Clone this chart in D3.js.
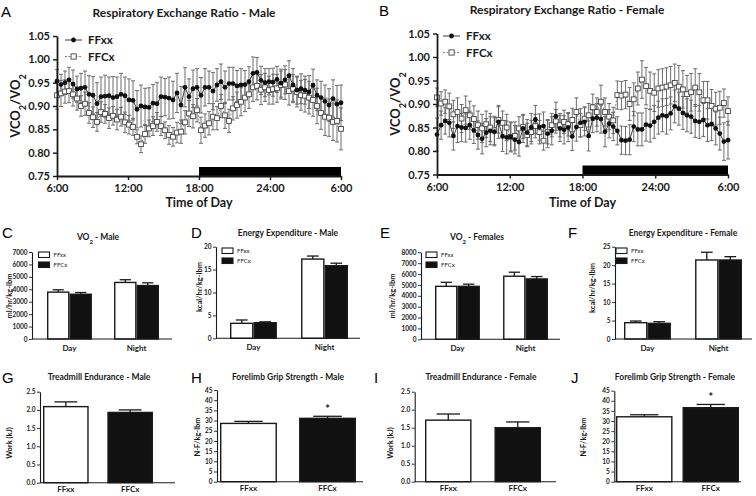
<!DOCTYPE html>
<html><head><meta charset="utf-8">
<script src="https://cdn.jsdelivr.net/npm/d3@7"></script>
<style>
body{margin:0;background:#fff;}
svg text{font-family:Lato,"Open Sans",sans-serif;}
.lab{font-family:"Liberation Sans",Arial,sans-serif !important;}
</style></head><body>
<svg id="c" width="756" height="496"></svg>
<script>
// ---------- DATA ----------
const timeTicks = [6, 12, 18, 24, 30];
const timeTickLabels = ["6:00", "12:00", "18:00", "24:00", "6:00"];
const rerTicks = [0.75, 0.80, 0.85, 0.90, 0.95, 1.00, 1.05];
const seriesNames = ["FFxx", "FFCx"];
const periods = ["Day", "Night"];

const maleFFxx = [0.953,0.946,0.950,0.956,0.947,0.936,0.938,0.940,0.925,0.923,
 0.905,0.920,0.921,0.922,0.918,0.920,0.925,0.922,0.913,0.912,
 0.893,0.900,0.898,0.897,0.906,0.905,0.920,0.919,0.917,0.913,
 0.928,0.902,0.940,0.920,0.937,0.940,0.923,0.940,0.940,0.932,
 0.945,0.952,0.940,0.948,0.948,0.943,0.945,0.946,0.952,0.970,
 0.972,0.955,0.950,0.952,0.951,0.957,0.949,0.956,0.965,0.945,
 0.934,0.937,0.934,0.930,0.944,0.923,0.918,0.910,0.902,0.916,
 0.904,0.907];
const maleFFxxErr = [0.025,0.022,0.025,0.027,0.030,0.028,0.032,
 0.035,0.040,0.040,0.045,0.042,0.045,0.040,0.045,0.042,0.045,0.040,0.045,0.042,0.040,0.045,0.040,0.042,0.040,0.045,0.042,0.040,0.045,0.040,0.042,
 0.040,0.042,0.038,0.040,0.040,0.038,0.040,0.035,0.040,0.035,0.038,0.035,0.035,0.035,0.033,0.035,0.030,0.032,
 0.035,0.032,0.030,0.030,0.028,0.030,0.028,0.030,0.030,0.032,0.035,0.030,
 0.032,0.030,0.035,0.035,0.033,0.035,0.035,0.035,0.040,0.040,0.038];
const maleFFCx = [0.923,0.927,0.931,0.932,0.925,0.916,0.900,0.905,0.885,0.876,
 0.866,0.887,0.883,0.874,0.879,0.871,0.877,0.865,0.860,0.855,
 0.834,0.818,0.840,0.852,0.857,0.866,0.857,0.848,0.838,0.834,
 0.843,0.845,0.865,0.884,0.878,0.891,0.848,0.858,0.863,0.877,
 0.874,0.900,0.880,0.868,0.895,0.902,0.909,0.918,0.925,0.940,
 0.943,0.935,0.940,0.934,0.936,0.938,0.945,0.946,0.932,0.937,
 0.930,0.923,0.922,0.918,0.913,0.900,0.885,0.877,0.875,0.866,
 0.868,0.851];
const maleFFCxErr = [0.030,0.028,0.025,0.025,0.025,0.025,0.022,
 0.025,0.022,0.022,0.020,0.022,0.020,0.022,0.020,0.022,0.020,0.022,0.020,0.018,0.015,0.018,0.020,0.018,0.020,0.020,0.020,0.018,0.020,0.020,0.022,
 0.025,0.025,0.028,0.025,0.025,0.028,0.025,0.025,0.028,0.025,0.025,0.028,0.025,0.025,0.028,0.030,0.030,0.030,
 0.030,0.030,0.032,0.030,0.030,0.032,0.030,0.030,0.032,0.030,0.030,0.032,
 0.032,0.035,0.035,0.035,0.038,0.035,0.040,0.040,0.040,0.045,0.045];

const femaleFFxx = [0.835,0.855,0.864,0.860,0.832,0.853,0.850,0.849,0.855,0.844,
 0.834,0.826,0.839,0.843,0.841,0.862,0.831,0.829,0.830,0.824,
 0.819,0.848,0.839,0.850,0.867,0.851,0.853,0.837,0.843,0.874,
 0.848,0.845,0.850,0.831,0.851,
 0.860,0.862,0.832,0.869,0.871,0.868,0.841,0.858,0.852,0.843,
 0.823,0.822,0.824,0.852,0.846,0.846,0.856,0.854,0.862,0.871,
 0.876,0.874,0.880,0.895,0.890,0.881,0.876,0.873,0.864,0.862,
 0.866,0.855,0.857,0.848,0.837,0.820,0.823];
const femaleFFxxErr = [0.035,0.030,0.028,0.030,0.030,0.035,0.030,0.030,0.030,0.028,
 0.030,0.032,0.030,0.030,0.030,0.035,0.032,0.035,0.032,0.030,
 0.030,0.030,0.028,0.030,0.030,0.028,0.030,0.030,0.030,0.030,
 0.028,0.030,0.030,0.030,0.030,
 0.030,0.030,0.032,0.030,0.030,0.030,0.032,0.030,0.030,0.030,
 0.030,0.030,0.032,0.032,0.035,0.035,0.035,0.035,0.035,0.035,
 0.035,0.038,0.035,0.035,0.035,0.035,0.035,0.035,0.035,0.035,
 0.035,0.035,0.035,0.035,0.035,0.040,0.040];
const femaleFFCx = [0.914,0.901,0.905,0.895,0.878,0.883,0.869,0.887,0.876,0.868,
 0.855,0.848,0.857,0.850,0.844,0.866,0.860,0.850,0.830,0.832,
 0.848,0.851,0.834,0.840,0.853,0.840,0.822,0.840,0.855,0.863,
 0.855,0.862,0.857,0.866,0.883,
 0.855,0.869,0.876,0.893,0.883,0.905,0.883,0.873,0.865,0.919,
 0.918,0.920,0.900,0.910,0.933,0.952,0.938,0.928,0.924,0.933,
 0.935,0.937,0.940,0.945,0.937,0.931,0.921,0.925,0.935,0.925,
 0.908,0.908,0.896,0.890,0.892,0.902,0.885];
const femaleFFCxErr = [0.020,0.025,0.025,0.028,0.030,0.030,0.030,0.030,0.030,0.028,
 0.030,0.030,0.028,0.030,0.030,0.028,0.025,0.028,0.030,0.030,
 0.025,0.025,0.025,0.025,0.025,0.025,0.020,0.025,0.025,0.025,
 0.025,0.025,0.025,0.025,0.030,
 0.025,0.025,0.025,0.028,0.030,0.035,0.030,0.028,0.028,0.030,
 0.030,0.030,0.035,0.035,0.035,0.040,0.040,0.040,0.040,0.040,
 0.040,0.040,0.040,0.040,0.045,0.040,0.040,0.040,0.040,0.040,
 0.040,0.040,0.035,0.035,0.035,0.030,0.030];

// bar panels: [FFxx, FFCx] per period
const vo2MaleDay = [3770, 3600], vo2MaleDayErr = [190, 140];
const vo2MaleNight = [4550, 4300], vo2MaleNightErr = [220, 220];
const eeMaleDay = [3.27, 3.40], eeMaleDayErr = [0.73, 0.20];
const eeMaleNight = [17.3, 15.85], eeMaleNightErr = [0.66, 0.55];
const vo2FemaleDay = [4870, 4870], vo2FemaleDayErr = [370, 200];
const vo2FemaleNight = [5800, 5550], vo2FemaleNightErr = [370, 220];
const eeFemaleDay = [4.42, 4.24], eeFemaleDayErr = [0.45, 0.45];
const eeFemaleNight = [21.4, 21.4], eeFemaleNightErr = [2.1, 0.9];
const treadMale = [2.09, 1.93], treadMaleErr = [0.13, 0.07];
const gripMale = [28.6, 31.1], gripMaleErr = [1.0, 1.0];
const treadFemale = [1.71, 1.50], treadFemaleErr = [0.17, 0.16];
const gripFemale = [32.1, 36.6], gripFemaleErr = [1.0, 1.6];

// ---------- DRAW ----------
const svg = d3.select("#c");
const INK = "#1a1a1a";

function styleAxis(sel, w, fs) {
  sel.select(".domain").attr("stroke", INK).attr("stroke-width", w);
  sel.selectAll(".tick line").attr("stroke", INK).attr("stroke-width", w * 0.8);
  sel.selectAll(".tick text").attr("fill", INK).attr("font-weight", "bold")
     .attr("font-size", fs).attr("font-family", "Lato, 'Open Sans', sans-serif");
}

function subText(g, parts, attrs) {
  const t = g.append("text");
  Object.entries(attrs).forEach(([k, v]) => t.attr(k, v));
  parts.forEach(p => {
    if (p.sub) {
      t.append("tspan").attr("baseline-shift", "sub").attr("font-size", "70%").text(p.t);
    } else t.append("tspan").text(p.t);
  });
  return t;
}

function rerPanel(o) {
  const g = svg.append("g");
  const x = d3.scaleLinear().domain([6, 30]).range([o.x0, o.x1]);
  const y = d3.scaleLinear().domain([0.75, 1.05]).range([o.yB, o.yT]);
  const n = o.s1.length;
  const hrs = d3.range(n).map(i => 6 + i * 24 / (n - 1));

  // dark phase bar
  g.append("rect").attr("x", x(18)).attr("y", y(0.75) - 9)
    .attr("width", x(30) - x(18)).attr("height", 9).attr("fill", "#000");

  const series = [
    {v: o.s2, e: o.e2, kind: "sq"},
    {v: o.s1, e: o.e1, kind: "dot"}
  ];
  // error bars
  series.forEach(s => {
    const eg = g.append("g").attr("stroke", "#5e5e5e").attr("stroke-width", 0.9);
    s.v.forEach((v, i) => {
      const cx = x(hrs[i]);
      eg.append("line").attr("x1", cx).attr("x2", cx).attr("y1", y(v - s.e[i])).attr("y2", y(v + s.e[i]));
      eg.append("line").attr("x1", cx - 2).attr("x2", cx + 2).attr("y1", y(v + s.e[i])).attr("y2", y(v + s.e[i]));
      eg.append("line").attr("x1", cx - 2).attr("x2", cx + 2).attr("y1", y(v - s.e[i])).attr("y2", y(v - s.e[i]));
    });
  });
  const line = d3.line().x((d, i) => x(hrs[i])).y(d => y(d));
  g.append("path").datum(o.s2).attr("d", line).attr("fill", "none")
    .attr("stroke", "#777").attr("stroke-width", 0.9).attr("stroke-dasharray", "2,1.5");
  g.append("path").datum(o.s1).attr("d", line).attr("fill", "none")
    .attr("stroke", "#222").attr("stroke-width", 0.9);
  g.append("g").selectAll("rect").data(o.s2).join("rect")
    .attr("x", (d, i) => x(hrs[i]) - 2.4).attr("y", d => y(d) - 2.4)
    .attr("width", 4.8).attr("height", 4.8).attr("fill", "#fff")
    .attr("stroke", "#444").attr("stroke-width", 0.9);
  g.append("g").selectAll("circle").data(o.s1).join("circle")
    .attr("cx", (d, i) => x(hrs[i])).attr("cy", d => y(d)).attr("r", 2.4).attr("fill", "#111");

  // axes
  const ya = g.append("g").attr("transform", `translate(${o.x0},0)`)
    .call(d3.axisLeft(y).tickValues(rerTicks).tickFormat(d3.format(".2f")).tickSize(4).tickSizeOuter(0));
  styleAxis(ya, 1.8, 11);
  const xa = g.append("g").attr("transform", `translate(0,${o.yB})`)
    .call(d3.axisBottom(x).tickValues(timeTicks).tickFormat((d, i) => timeTickLabels[i]).tickSize(4).tickSizeOuter(0));
  styleAxis(xa, 1.8, 11);
  xa.selectAll(".tick text").attr("dy", "0.85em");

  // title, labels
  g.append("text").attr("x", o.tx).attr("y", o.ty).attr("text-anchor", "middle")
    .attr("font-weight", "bold").attr("font-size", 12).attr("fill", INK).text(o.title);
  g.append("text").attr("class", "lab").attr("x", o.lx).attr("y", o.ly)
    .attr("font-size", 15).attr("fill", "#000").text(o.letter);
  g.append("text").attr("x", (o.x0 + o.x1) / 2).attr("y", 207).attr("text-anchor", "middle")
    .attr("font-weight", "bold").attr("font-size", 12.5).attr("fill", INK).text("Time of Day");
  subText(g, [{t: "VCO"}, {t: "2", sub: 1}, {t: "/VO"}, {t: "2", sub: 1}],
    {transform: `translate(${o.x0 - 37},${(o.yT + o.yB) / 2}) rotate(-90)`, "text-anchor": "middle",
     "font-weight": "bold", "font-size": 13, fill: INK});

  // legend
  const lg = g.append("g");
  [0, 1].forEach(k => {
    const ly = o.legY + k * 16.5;
    lg.append("line").attr("x1", o.legX).attr("x2", o.legX + 17).attr("y1", ly).attr("y2", ly)
      .attr("stroke", k ? "#777" : "#222").attr("stroke-width", 0.9)
      .attr("stroke-dasharray", k ? "2,1.5" : null);
    if (k) lg.append("rect").attr("x", o.legX + 6).attr("y", ly - 2.6).attr("width", 5.2).attr("height", 5.2)
      .attr("fill", "#fff").attr("stroke", "#444").attr("stroke-width", 0.9);
    else lg.append("circle").attr("cx", o.legX + 8.5).attr("cy", ly).attr("r", 2.4).attr("fill", "#111");
    lg.append("text").attr("x", o.legX + 23).attr("y", ly + 4).attr("font-weight", "bold")
      .attr("font-size", 11.5).attr("fill", INK).text(seriesNames[k]);
  });
}

rerPanel({x0: 57, x1: 341, yT: 36, yB: 176, s1: maleFFxx, e1: maleFFxxErr, s2: maleFFCx, e2: maleFFCxErr,
  title: "Respiratory Exchange Ratio - Male", tx: 184, ty: 17, letter: "A", lx: 1, ly: 17, legX: 65, legY: 40});
rerPanel({x0: 437, x1: 728, yT: 33.5, yB: 174.5, s1: femaleFFxx, e1: femaleFFxxErr, s2: femaleFFCx, e2: femaleFFCxErr,
  title: "Respiratory Exchange Ratio - Female", tx: 567, ty: 14, letter: "B", lx: 379, ly: 16, legX: 443, legY: 36});

function barPanel(o) {
  const g = svg.append("g");
  const y = d3.scaleLinear().domain([0, o.yMax]).range([o.yB, o.yT]);
  let bars = [];
  if (o.grouped) {
    const x0 = d3.scaleBand().domain(periods).range([o.b0, o.b1]).paddingInner(o.pad);
    const x1 = d3.scaleBand().domain(seriesNames).range([0, x0.bandwidth()]);
    periods.forEach((p, pi) => seriesNames.forEach((s, si) => {
      bars.push({x: x0(p) + x1(s), w: x1.bandwidth(), v: o.vals[pi][si], e: o.errs[pi][si], s: si});
    }));
    periods.forEach(p => g.append("text").attr("x", x0(p) + x0.bandwidth() / 2).attr("y", o.yB + 12)
      .attr("text-anchor", "middle").attr("font-weight", "bold").attr("font-size", 8).attr("fill", INK).text(p));
  } else {
    const x = d3.scaleBand().domain(seriesNames).range([o.b0, o.b1]).paddingInner(o.pad);
    seriesNames.forEach((s, si) => bars.push({x: x(s), w: x.bandwidth(), v: o.vals[si], e: o.errs[si], s: si}));
    seriesNames.forEach(s => g.append("text").attr("x", x(s) + x.bandwidth() / 2).attr("y", o.yB + 9)
      .attr("text-anchor", "middle").attr("font-weight", "bold").attr("font-size", 8).attr("fill", INK).text(s));
  }
  bars.forEach(b => {
    g.append("line").attr("x1", b.x + b.w / 2).attr("x2", b.x + b.w / 2).attr("y1", y(b.v)).attr("y2", y(b.v + b.e))
      .attr("stroke", INK).attr("stroke-width", 1.3);
    g.append("line").attr("x1", b.x + b.w / 4).attr("x2", b.x + 3 * b.w / 4).attr("y1", y(b.v + b.e)).attr("y2", y(b.v + b.e))
      .attr("stroke", INK).attr("stroke-width", 1.3);
    g.append("rect").attr("x", b.x + 0.7).attr("y", y(b.v)).attr("width", b.w - 1.4).attr("height", y(0) - y(b.v))
      .attr("fill", b.s ? "#111" : "#fff").attr("stroke", INK).attr("stroke-width", 1.4);
  });
  if (o.star) {
    const b = bars[1];
    g.append("text").attr("x", b.x + b.w / 2).attr("y", y(b.v + b.e) - 3).attr("text-anchor", "middle")
      .attr("font-weight", "bold").attr("font-size", 11).attr("fill", INK).text("*");
  }
  const ya = g.append("g").attr("transform", `translate(${o.ax},0)`)
    .call(d3.axisLeft(y).tickValues(o.ticks).tickFormat(o.fmt).tickSize(3).tickSizeOuter(0).tickPadding(1.5));
  styleAxis(ya, 1.1, 6.5);
  g.append("line").attr("x1", o.ax).attr("x2", o.xEnd).attr("y1", o.yB).attr("y2", o.yB)
    .attr("stroke", INK).attr("stroke-width", 1.1);

  subText(g, o.title, {x: o.tx, y: o.ty, "text-anchor": "middle", "font-weight": "bold", "font-size": 8.5, fill: INK});
  g.append("text").attr("class", "lab").attr("x", o.lx).attr("y", o.ly).attr("font-size", 15).attr("fill", "#000").text(o.letter);
  g.append("text").attr("transform", `translate(${o.ylx},${o.yly}) rotate(-90)`).attr("text-anchor", "middle")
    .attr("font-weight", "bold").attr("font-size", 7.5).attr("fill", INK).text(o.ylabel);
  if (o.legX) {
    seriesNames.forEach((s, k) => {
      const ly = o.legY + k * 10;
      g.append("rect").attr("x", o.legX).attr("y", ly).attr("width", 11).attr("height", 5.5)
        .attr("fill", k ? "#111" : "#fff").attr("stroke", INK).attr("stroke-width", 1.1);
      g.append("text").attr("x", o.legX + 15).attr("y", ly + 5).attr("font-size", 6).attr("fill", INK).text(s);
    });
  }
}

const fmtInt = d3.format("d"), fmt1 = d3.format(".1f");
const t7000 = d3.range(0, 7001, 1000), t8000 = d3.range(0, 8001, 1000);
const t20 = [0, 5, 10, 15, 20], t25 = [0, 5, 10, 15, 20, 25], t25s = [0, 0.5, 1.0, 1.5, 2.0, 2.5], t45 = d3.range(0, 46, 5);

barPanel({grouped: 1, ax: 32, yT: 252, yB: 339, xEnd: 172, yMax: 7000, ticks: t7000, fmt: fmtInt,
  b0: 47, b1: 159, pad: 0.33, vals: [vo2MaleDay, vo2MaleNight], errs: [vo2MaleDayErr, vo2MaleNightErr],
  title: [{t: "VO"}, {t: "2", sub: 1}, {t: " - Male"}], tx: 98, ty: 240, letter: "C", lx: 2, ly: 238,
  ylabel: "ml/hr/kg-lbm", ylx: 12, yly: 296, legX: 38.5, legY: 252});
barPanel({grouped: 1, ax: 216, yT: 246.7, yB: 338.3, xEnd: 360, yMax: 20, ticks: t20, fmt: fmtInt,
  b0: 230, b1: 348, pad: 0.34, vals: [eeMaleDay, eeMaleNight], errs: [eeMaleDayErr, eeMaleNightErr],
  title: [{t: "Energy Expenditure - Male"}], tx: 288, ty: 236, letter: "D", lx: 191, ly: 238,
  ylabel: "kcal/hr/kg-lbm", ylx: 202, yly: 287, legX: 222, legY: 248});
barPanel({grouped: 1, ax: 421, yT: 252.3, yB: 339.3, xEnd: 560, yMax: 8000, ticks: t8000, fmt: fmtInt,
  b0: 435, b1: 548, pad: 0.34, vals: [vo2FemaleDay, vo2FemaleNight], errs: [vo2FemaleDayErr, vo2FemaleNightErr],
  title: [{t: "VO"}, {t: "2", sub: 1}, {t: " - Females"}], tx: 477, ty: 240, letter: "E", lx: 380, ly: 238,
  ylabel: "ml/hr/kg-lbm", ylx: 395, yly: 296, legX: 426, legY: 252});
barPanel({grouped: 1, ax: 615, yT: 246.7, yB: 339, xEnd: 752, yMax: 25, ticks: t25, fmt: fmtInt,
  b0: 624, b1: 742, pad: 0.34, vals: [eeFemaleDay, eeFemaleNight], errs: [eeFemaleDayErr, eeFemaleNightErr],
  title: [{t: "Energy Expenditure - Female"}], tx: 683, ty: 236, letter: "F", lx: 568, ly: 238,
  ylabel: "kcal/hr/kg-lbm", ylx: 595, yly: 288, legX: 616, legY: 248});

barPanel({ax: 40, yT: 391.7, yB: 482.7, xEnd: 175, yMax: 2.5, ticks: t25s, fmt: fmt1,
  b0: 43, b1: 153, pad: 0.29, vals: treadMale, errs: treadMaleErr,
  title: [{t: "Treadmill Endurance - Male"}], tx: 99, ty: 380, letter: "G", lx: 2, ly: 383,
  ylabel: "Work (kJ)", ylx: 12, yly: 443});
barPanel({ax: 217, yT: 390, yB: 481.7, xEnd: 363, yMax: 45, ticks: t45, fmt: fmtInt,
  b0: 220, b1: 356, pad: 0.28, vals: gripMale, errs: gripMaleErr, star: 1,
  title: [{t: "Forelimb Grip Strength - Male"}], tx: 288, ty: 380, letter: "H", lx: 191, ly: 383,
  ylabel: "N-F/kg-lbm", ylx: 200, yly: 437});
barPanel({ax: 414.7, yT: 391.7, yB: 481.7, xEnd: 556, yMax: 2.5, ticks: t25s, fmt: fmt1,
  b0: 425, b1: 541, pad: 0.33, vals: treadFemale, errs: treadFemaleErr,
  title: [{t: "Treadmill Endurance - Female"}], tx: 481, ty: 380, letter: "I", lx: 374, ly: 383,
  ylabel: "Work (kJ)", ylx: 393, yly: 443});
barPanel({ax: 614.3, yT: 390.7, yB: 481.7, xEnd: 741, yMax: 45, ticks: t45, fmt: fmtInt,
  b0: 616, b1: 739, pad: 0.15, vals: gripFemale, errs: gripFemaleErr, star: 1,
  title: [{t: "Forelimb Grip Strength - Female"}], tx: 675, ty: 380, letter: "J", lx: 571, ly: 383,
  ylabel: "N-F/kg-lbm", ylx: 586, yly: 437});
</script>
</body></html>
